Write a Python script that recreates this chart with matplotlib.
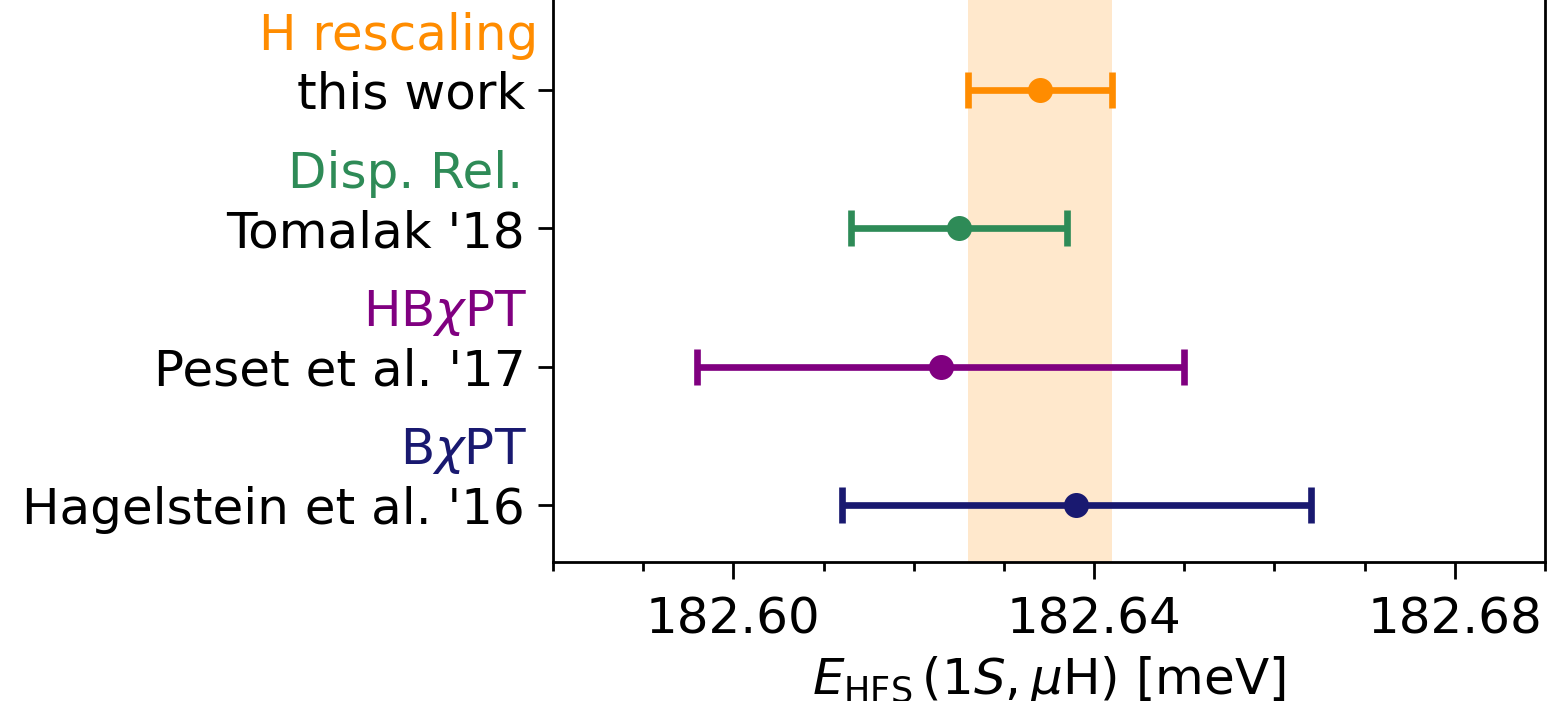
import numpy as np
import matplotlib
matplotlib.use('Agg')
from matplotlib import pyplot as plt
from matplotlib.ticker import MultipleLocator, FormatStrFormatter

# data, bottom row first
refs = ["Hagelstein et al. '16", "Peset et al. '17", "Tomalak '18", "this work"]
methods = [r"B$\chi$PT", r"HB$\chi$PT", "Disp. Rel.", "H rescaling"]
values = [182.638, 182.623, 182.625, 182.634]
errors = [0.026, 0.027, 0.012, 0.008]
colors = ['midnightblue', 'purple', 'seagreen', 'darkorange']

plt.rcParams['font.size'] = 18

fig = plt.figure(figsize=(7.765, 3.505), dpi=200)
ax = fig.add_axes([553/1553, 139/701, 992/1553, 562/701])

ypos = np.arange(len(refs))

# band for this work
ax.axvspan(values[-1] - errors[-1], values[-1] + errors[-1],
           color='darkorange', alpha=0.2, lw=0, zorder=0)

for i in range(len(refs)):
    ax.errorbar(values[i], ypos[i], xerr=errors[i], fmt='o', color=colors[i],
                ms=8, elinewidth=2.4, capsize=6.5, capthick=2.4)

ax.set_yticks(ypos)
ax.set_yticklabels(refs)

# method labels above the reference names
label_right = [527, 527, 523, 538]
for i in range(len(refs)):
    ax.text((label_right[i] - 553) / 992, ypos[i] + 0.39, methods[i],
            color=colors[i], ha='right', va='center',
            transform=ax.get_yaxis_transform())

ax.set_xlim(182.58, 182.69)
ax.set_ylim(-0.41, 3.65)
ax.xaxis.set_major_locator(MultipleLocator(0.04))
ax.xaxis.set_minor_locator(MultipleLocator(0.01))
ax.xaxis.set_major_formatter(FormatStrFormatter('%.2f'))
ax.tick_params(which='major', length=6, width=1.0)
ax.tick_params(which='minor', length=3.3, width=1.0)
ax.tick_params(axis='x', which='major', pad=6)
ax.tick_params(axis='y', which='major', length=5.5, pad=4.5)
for s in ax.spines.values():
    s.set_linewidth(1.0)
ax.spines['top'].set_visible(False)

ax.set_xlabel(r"$E_\mathrm{HFS}\,(1S,\mu\mathrm{H})$ [meV]", labelpad=4)

fig.savefig('out.png', dpi=200)
